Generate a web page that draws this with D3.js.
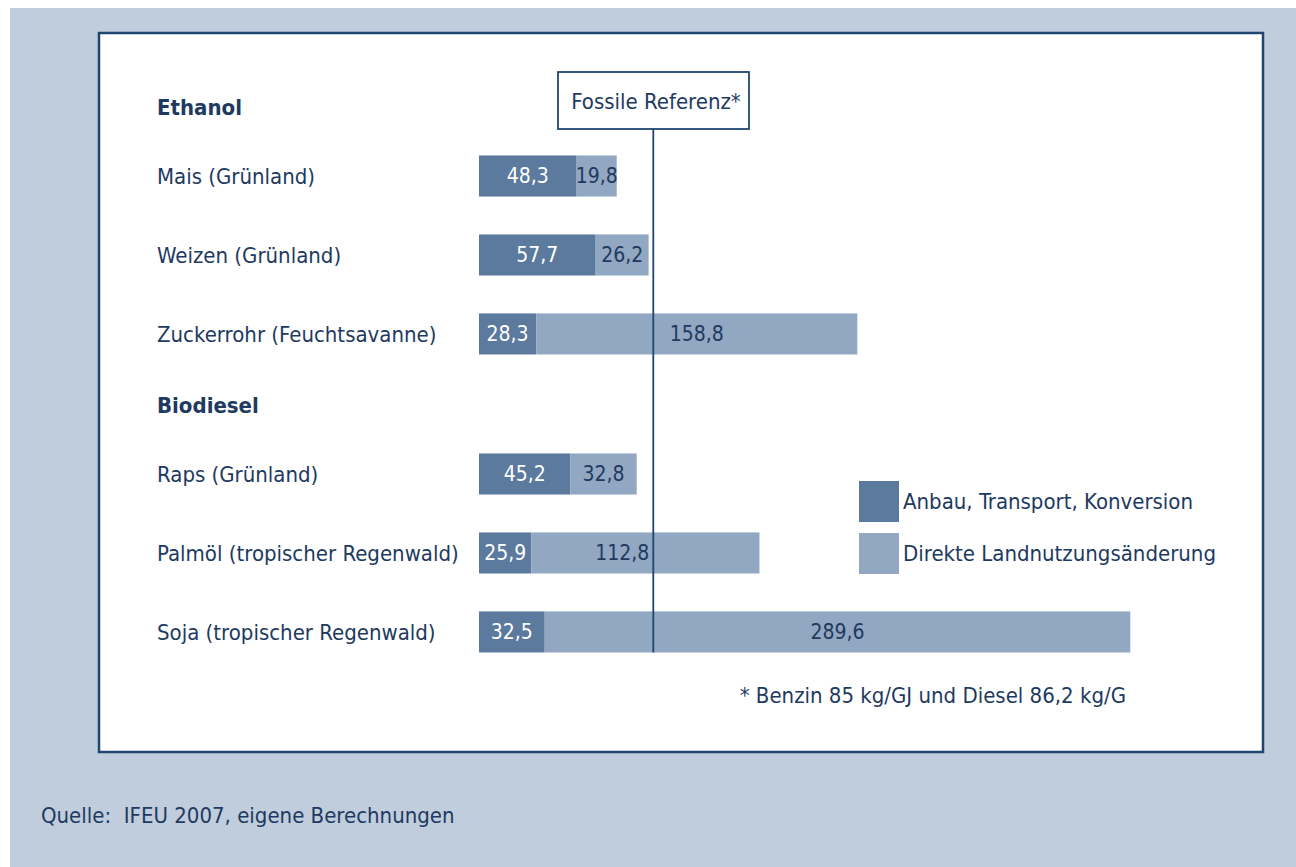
<!DOCTYPE html>
<html>
<head>
<meta charset="utf-8">
<script src="https://cdn.jsdelivr.net/npm/d3@7"></script>
<style>
  html, body { margin: 0; padding: 0; background: #fff; }
  svg { display: block; }
  text { font-family: "Liberation Sans Narrow", "DejaVu Sans Condensed", "Open Sans", sans-serif; white-space: pre; }
</style>
</head>
<body>
<script>
/* Chart Data */
var groups      = ["Ethanol", "Biodiesel"];
var categories  = [
    ["Mais (Grünland)", "Weizen (Grünland)", "Zuckerrohr (Feuchtsavanne)"],
    ["Raps (Grünland)", "Palmöl (tropischer Regenwald)", "Soja (tropischer Regenwald)"]
];
var anbau       = [[48.3, 57.7, 28.3], [45.2, 25.9, 32.5]];
var landnutzung = [[19.8, 26.2, 158.8], [32.8, 112.8, 289.6]];
var seriesNames = ["Anbau, Transport, Konversion", "Direkte Landnutzungsänderung"];
var referenceValue = 86.2;
var referenceLabel = "Fossile Referenz*";
var footnote    = "* Benzin 85 kg/GJ und Diesel 86,2 kg/G";
var source      = "Quelle:  IFEU 2007, eigene Berechnungen";

/* Styles */
var W = 1296, H = 867,
    bgColor     = "#c0cddd",
    lineColor   = "#1f4670",
    textColor   = "#1e3a60",
    colors      = ["#5b7a9e", "#92a7c1"],
    fontSize    = 22;

var svg = d3.select("body").append("svg")
    .attr("width", W)
    .attr("height", H);

// Background & Panel
svg.append("rect").attr("x", 10).attr("y", 8).attr("width", W - 10).attr("height", H - 8).attr("fill", bgColor);
svg.append("rect").attr("x", 99).attr("y", 33).attr("width", 1164).attr("height", 719)
    .attr("fill", "#fff").attr("stroke", lineColor).attr("stroke-width", 2.5);

// Scales
var x = d3.scaleLinear().domain([0, 330]).range([479, 479 + 330 * 2.022]);
var yGroup = d3.scalePoint().domain(groups).range([176, 474]);
var yRow = d3.scaleBand().domain([0, 1, 2]).range([0, 199]).paddingInner(0.48).paddingOuter(0);
var bandOffset = -yRow.bandwidth() / 2;   // center first row on group origin

var refX = x(referenceValue);

groups.forEach(function (g, gi) {
    var gy = yGroup(g);

    // Group Header
    svg.append("text")
        .attr("x", 157).attr("y", gy - 69)
        .attr("dy", "0.35em")
        .attr("font-size", fontSize).attr("font-weight", "bold")
        .attr("fill", textColor)
        .text(g);

    categories[gi].forEach(function (cat, i) {
        var top = gy + bandOffset + yRow(i),
            h   = yRow.bandwidth(),
            cy  = top + h / 2,
            a   = anbau[gi][i],
            l   = landnutzung[gi][i];

        // Category Label
        svg.append("text")
            .attr("x", 157).attr("y", cy)
            .attr("dy", "0.35em")
            .attr("font-size", fontSize)
            .attr("fill", textColor)
            .text(cat);

        // Segments
        var segs = [
            {x0: 0, x1: a, v: a, fill: colors[0], label: "#fff"},
            {x0: a, x1: a + l, v: l, fill: colors[1], label: textColor}
        ];
        segs.forEach(function (s) {
            svg.append("rect")
                .attr("x", x(s.x0)).attr("y", top)
                .attr("width", x(s.x1) - x(s.x0)).attr("height", h)
                .attr("fill", s.fill);
        });
        segs.forEach(function (s) {
            var t = svg.append("text")
                .attr("y", cy).attr("dy", "0.35em")
                .attr("font-size", fontSize - 1)
                .attr("fill", s.label)
                .attr("text-anchor", "middle")
                .attr("x", (x(s.x0) + x(s.x1)) / 2)
                .text(d3.format(".1f")(s.v).replace(".", ","));
            // keep label clear of the reference line
            var bb = t.node().getBBox();
            if (bb.x < refX && bb.x + bb.width > refX && s.x1 > referenceValue) {
                t.attr("text-anchor", "end").attr("x", refX - 4);
            }
        });
    });
});

// Reference Line & Box
var lastGroup = groups[groups.length - 1];
svg.append("line")
    .attr("x1", refX).attr("x2", refX)
    .attr("y1", 128).attr("y2", yGroup(lastGroup) + bandOffset + yRow(2) + yRow.bandwidth())
    .attr("stroke", lineColor).attr("stroke-width", 1.8);
svg.append("rect")
    .attr("x", 558).attr("y", 72).attr("width", 191).attr("height", 57)
    .attr("fill", "#fff").attr("stroke", lineColor).attr("stroke-width", 1.8);
svg.append("text")
    .attr("x", 656).attr("y", 101).attr("dy", "0.35em")
    .attr("text-anchor", "middle")
    .attr("font-size", fontSize)
    .attr("fill", textColor)
    .text(referenceLabel);

// Legend
var legend = svg.append("g").attr("transform", "translate(859,481)");
seriesNames.forEach(function (name, i) {
    legend.append("rect")
        .attr("x", 0).attr("y", i * 52)
        .attr("width", 40).attr("height", 41)
        .attr("fill", colors[i]);
    legend.append("text")
        .attr("x", 44).attr("y", i * 52 + 20).attr("dy", "0.35em")
        .attr("font-size", fontSize)
        .attr("fill", textColor)
        .text(name);
});

// Footnote & Source
svg.append("text")
    .attr("x", 1126).attr("y", 695).attr("dy", "0.35em")
    .attr("text-anchor", "end")
    .attr("font-size", fontSize)
    .attr("fill", textColor)
    .text(footnote);
svg.append("text")
    .attr("x", 41).attr("y", 815).attr("dy", "0.35em")
    .attr("font-size", fontSize)
    .attr("fill", textColor)
    .text(source);
</script>
</body>
</html>
